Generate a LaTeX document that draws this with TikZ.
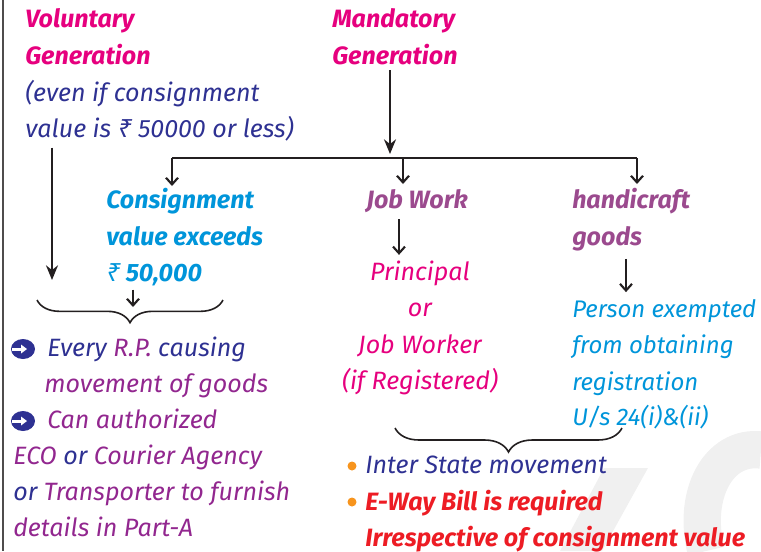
\documentclass[tikz,border=0pt]{standalone}
\usepackage{fontspec}
\setmainfont{Fira Sans}
\newfontfamily\rupfont{Noto Sans}
\usetikzlibrary{arrows.meta,decorations.pathreplacing}
\definecolor{cpink}{HTML}{E6007E}
\definecolor{cnavy}{HTML}{2E3192}
\definecolor{ccyan}{HTML}{0095DA}
\definecolor{cplum}{HTML}{9B4A8E}
\definecolor{cpurple}{HTML}{92278F}
\definecolor{cred}{HTML}{ED1C24}
\definecolor{corange}{HTML}{F7941D}
\definecolor{cline}{HTML}{231F20}
\newcommand{\rup}{{\rupfont\itshape ₹}}
\newcommand{\hw}{\fontsize{18.8}{22}\selectfont\itshape}
\newcommand{\hws}{\fontsize{18}{22}\selectfont\itshape}
\newcommand{\hwb}{\fontsize{18.8}{22}\selectfont\itshape\bfseries}
\tikzset{
  txt/.style={inner sep=0pt, anchor=base west, font=\hw},
  txtc/.style={inner sep=0pt, anchor=base, font=\hw},
  ttl/.style={inner sep=0pt, anchor=base west, font=\hwb},
  bigarrow/.style={draw=cline, line width=1.6pt, -{Stealth[length=11pt,width=9pt]}},
  smallarrow/.style={draw=cline, line width=1.6pt, -{Straight Barb[length=5pt,width=9pt]}},
  plain/.style={draw=cline, line width=1.6pt},
  bracestyle/.style={draw=cline, line width=1.2pt, decorate},
  bulcirc/.style={circle, fill=cnavy, minimum width=15pt, inner sep=0pt, xscale=1.2},
}
\begin{document}
\begin{tikzpicture}[x=0.75pt,y=-0.75pt]
\useasboundingbox (0,0) rectangle (761,551);
% watermark
\fill[gray!12] (560,551) -- (604,468) -- (648,468) -- (602,551) -- cycle;
\draw[gray!12, line width=28pt] (706,551) .. controls (692,495) and (718,445) .. (761,450);
% left border
\draw[cline!80, line width=1.2pt] (3,0) -- (3,551);

% Voluntary block
\node[ttl, text=cpink] (vol1) at (25,27) {Voluntary};
\node[ttl, text=cpink] (vol2) at (25,64) {Generation};
\node[txt, text=cnavy] (vol3) at (25,101) {(even if consignment};
\node[txt, text=cnavy] (vol4) at (25,137) {value is \rup\ 50000 or less)};

% Mandatory block
\node[ttl, text=cpink] (man1) at (332,27) {Mandatory};
\node[ttl, text=cpink] (man2) at (332,64) {Generation};

% branch row
\node[ttl, text=ccyan] (con1) at (106,208) {Consignment};
\node[ttl, text=ccyan] (con2) at (106,245) {value exceeds};
\node[ttl, text=ccyan] (con3) at (106,281) {\rup\ 50,000};

\node[ttl, text=cplum] (job) at (366,208) {Job Work};
\node[txtc, text=cpink] (prin1) at (420,280) {Principal};
\node[txtc, text=cpink] (prin2) at (420,316) {or};
\node[txtc, text=cpink] (prin3) at (420,353) {Job Worker};
\node[txtc, text=cpink] (prin4) at (420,389) {(if Registered)};

\node[ttl, text=cplum] (hc1) at (572,208) {handicraft};
\node[ttl, text=cplum] (hc2) at (572,245) {goods};
\node[txt, text=ccyan, font=\hws] (pe1) at (572,317) {Person exempted};
\node[txt, text=ccyan, font=\hws] (pe2) at (572,353) {from obtaining};
\node[txt, text=ccyan, font=\hws] (pe3) at (572,390) {registration};
\node[txt, text=ccyan, font=\hws] (pe4) at (572,425) {U/s 24(i)\&(ii)};

% left list
\node[bulcirc] (ar1) at (23,349) {};
\fill[white] (12,347.5) rectangle (22,350.5);
\fill[white] (21,344.5) -- (27,349) -- (21,353.5) -- cycle;
\node[txt, text=cnavy] (li1) at (47,356) {Every \textcolor{cpurple}{R.P.} causing};
\node[txt, text=cpurple] (li2) at (44,392) {movement of goods};
\node[bulcirc] (ar2) at (23,421) {};
\fill[white] (12,419.5) rectangle (22,422.5);
\fill[white] (21,416.5) -- (27,421) -- (21,425.5) -- cycle;
\node[txt, text=cpurple] (li3) at (47,428) {Can authorized};
\node[txt, text=cpurple] (li4) at (13,464) {ECO \textcolor{cnavy}{or} Courier Agency};
\node[txt, text=cpurple] (li5) at (13,500) {\textcolor{cnavy}{or} Transporter to furnish};
\node[txt, text=cpurple] (li6) at (13,536) {details in Part-A};

% right bullets
\fill[corange] (352,466) circle (4.5);
\node[txt, text=cnavy] (b1) at (365,473) {Inter State movement};
\fill[corange] (352,502) circle (4.5);
\node[ttl, text=cred] (b2) at (365,510) {E-Way Bill is required};
\node[ttl, text=cred] (b3) at (365,546) {Irrespective of consignment value};

% coordinates
\coordinate (volx) at (52,0);
\coordinate (volend) at (52,280);
\coordinate (hub) at (390,158);
\coordinate (barL) at (172,158);
\coordinate (barM) at (403,158);
\coordinate (barR) at (637,158);
\coordinate (dropL) at (172,186);
\coordinate (dropM) at (403,184);
\coordinate (dropR) at (637,184);
\coordinate (jobx) at (399,0);
\coordinate (hcx) at (626,0);
\coordinate (conx) at (133,0);
\coordinate (conend) at (133,307);
\coordinate (br1L) at (37,300);
\coordinate (br1R) at (223,300);
\coordinate (br2L) at (395,428);
\coordinate (br2R) at (622,428);

% connectors
\draw[bigarrow] ([yshift=-5pt]vol4.south -| volx) -- (volend);
\draw[bigarrow] ([yshift=-4pt]man2.south -| hub) -- ([yshift=3pt]hub);
\draw[plain] (barL) -- (barR);
\draw[smallarrow] (barL) -- (dropL);
\draw[smallarrow] (barM) -- (dropM);
\draw[smallarrow] (barR) -- (dropR);
\draw[smallarrow] ([yshift=-5pt]job.south -| jobx) -- ([yshift=4pt]prin1.north -| jobx);
\draw[smallarrow] ([yshift=-6pt]hc2.south -| hcx) -- ([yshift=5pt]pe1.north -| hcx);
\draw[smallarrow] ([yshift=-3pt]con3.south -| conx) -- (conend);
\draw[bracestyle, decoration={brace, mirror, amplitude=17pt, aspect=0.5}] (br1L) -- (br1R);
\draw[bracestyle, decoration={brace, mirror, amplitude=18pt, aspect=0.5}] (br2L) -- (br2R);
\end{tikzpicture}
\end{document}
